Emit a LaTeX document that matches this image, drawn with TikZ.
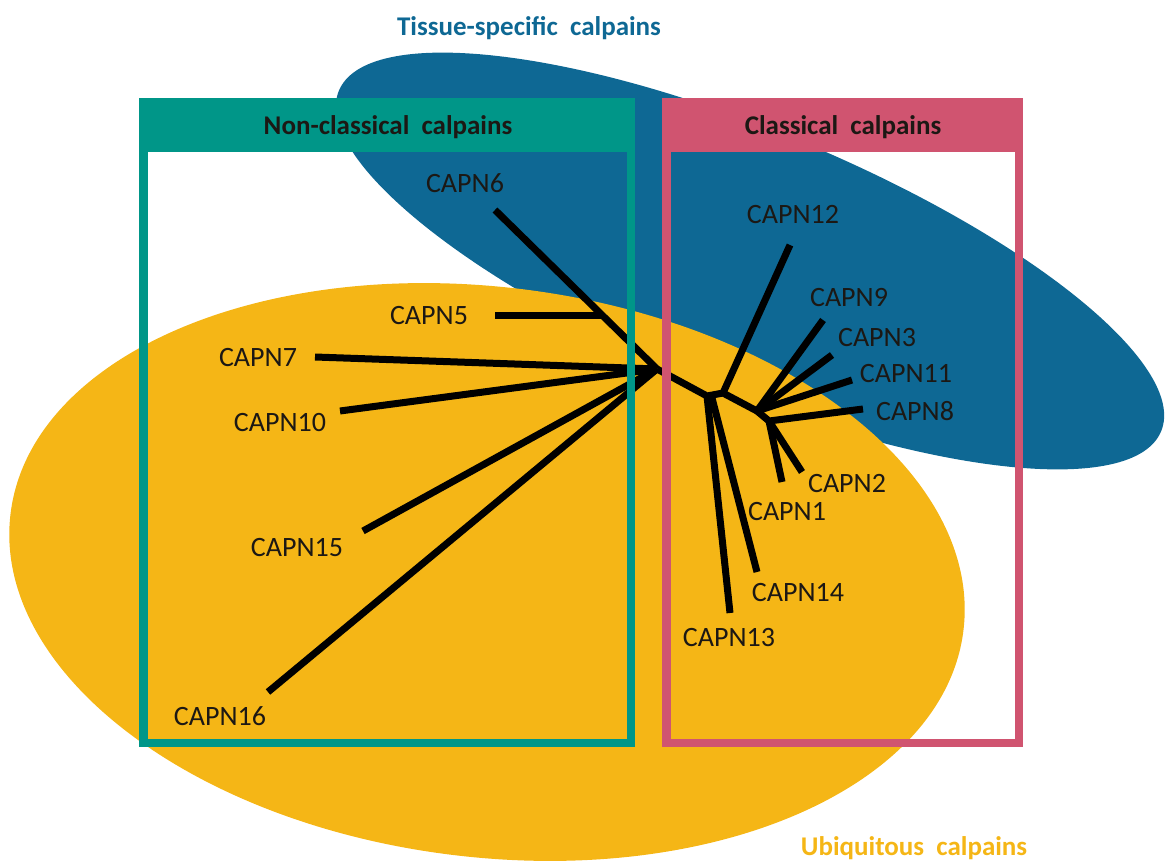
\documentclass[tikz,border=0pt]{standalone}
\usepackage{fontspec}
\setmainfont{Carlito}
\definecolor{tsblue}{RGB}{14,104,148}
\definecolor{ubyellow}{RGB}{245,182,22}
\definecolor{ncteal}{RGB}{0,150,136}
\definecolor{clpink}{RGB}{208,84,112}
\definecolor{labdark}{RGB}{28,24,20}
\begin{document}
\begin{tikzpicture}[x=1pt,y=-1pt,
  lab/.style={font=\fontsize{28}{30}\selectfont, text=labdark, inner sep=0pt, anchor=center},
  ttl/.style={font=\fontsize{27}{30}\selectfont\bfseries, inner sep=0pt, anchor=center},
  branch/.style={line width=7pt, black, line join=round},
  boxborder/.style={line width=8.5pt}]
\useasboundingbox (0,0) rectangle (1165,861);
% ellipses
\fill[tsblue, rotate around={-22.5:(750,261)}] (750,261) ellipse [x radius=445pt, y radius=130pt];
\fill[ubyellow, rotate around={-7:(487,572)}] (487,572) ellipse [x radius=480pt, y radius=285pt];
% tree coordinates
\coordinate (hub) at (657,369);
\coordinate (n5) at (602,315);
\coordinate (e6) at (495,210);
\coordinate (e5) at (495,315);
\coordinate (e7) at (315,357);
\coordinate (e10) at (340,411);
\coordinate (e15) at (363,531);
\coordinate (e16) at (268,692);
\coordinate (n1) at (707,396);
\coordinate (n1b) at (712,398);
\coordinate (n2) at (723,393);
\coordinate (n3) at (757,411);
\coordinate (n4) at (769,421);
\coordinate (e12) at (790,245);
\coordinate (e9) at (823,320);
\coordinate (e3) at (832,355);
\coordinate (e11) at (852,380);
\coordinate (e8) at (863,409);
\coordinate (e1) at (782,482);
\coordinate (e2) at (802,472);
\coordinate (e13) at (730,613);
\coordinate (e14) at (757,572);
% branches
\draw[branch] (e6) -- (n5) -- (hub);
\draw[branch] (e5) -- (n5);
\draw[branch] (e7) -- (hub);
\draw[branch] (e10) -- (hub);
\draw[branch] (e15) -- (hub);
\draw[branch] (e16) -- (hub);
\draw[branch] (hub) -- (n1) -- (n2) -- (n3) -- (n4) -- (e8);
\draw[branch] (n2) -- (e12);
\draw[branch] (n3) -- (e9);
\draw[branch] (n3) -- (e3);
\draw[branch] (n3) -- (e11);
\draw[branch] (n4) -- (e1);
\draw[branch] (n4) -- (e2);
\draw[branch] (n1) -- (e13);
\draw[branch] (n1b) -- (e14);
% boxes
\fill[ncteal] (139,98) rectangle (635,152);
\draw[ncteal, boxborder] (143.25,102.25) rectangle (630.75,742.75);
\fill[clpink] (662,98) rectangle (1023,152);
\draw[clpink, boxborder] (666.25,102.25) rectangle (1018.75,742.75);
% titles
\node[ttl, text=labdark] (nct) at (388,127) {Non-classical\hspace{0.45em}calpains};
\node[ttl, text=labdark] (clt) at (843,127) {Classical\hspace{0.45em}calpains};
\node[ttl, text=tsblue] (tst) at (529,28) {Tissue-specific\hspace{0.45em}calpains};
\node[ttl, text=ubyellow] (ubt) at (914,848) {Ubiquitous\hspace{0.45em}calpains};
% labels
\node[lab] (l6) at (465,183) {CAPN6};
\node[lab] (l5) at (429,316) {CAPN5};
\node[lab] (l7) at (258,358) {CAPN7};
\node[lab] (l10) at (280,423) {CAPN10};
\node[lab] (l15) at (297,548) {CAPN15};
\node[lab] (l16) at (220,716) {CAPN16};
\node[lab] (l12) at (793,215) {CAPN12};
\node[lab] (l9) at (849,298) {CAPN9};
\node[lab] (l3) at (877,338) {CAPN3};
\node[lab] (l11) at (906,374) {CAPN11};
\node[lab] (l8) at (915,411) {CAPN8};
\node[lab] (l2) at (847,484) {CAPN2};
\node[lab] (l1) at (787,512) {CAPN1};
\node[lab] (l14) at (798,593) {CAPN14};
\node[lab] (l13) at (729,638) {CAPN13};
\end{tikzpicture}
\end{document}
